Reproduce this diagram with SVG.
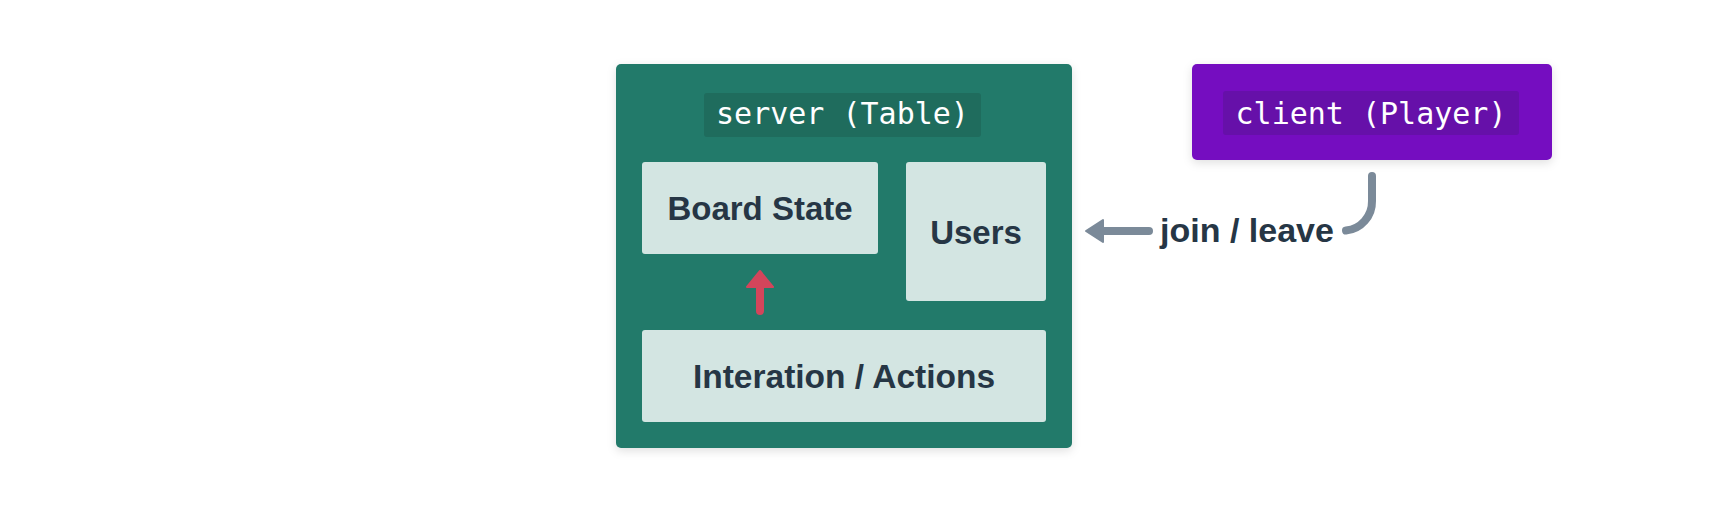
<svg xmlns="http://www.w3.org/2000/svg" width="1712" height="512" viewBox="0 0 1712 512">
<defs>
<filter id="sh" x="-10%" y="-10%" width="120%" height="130%">
<feDropShadow dx="0" dy="3" stdDeviation="5" flood-color="#000" flood-opacity="0.12"/>
</filter>
</defs>
<style>
.mono{font-family:"DejaVu Sans Mono","Liberation Mono",monospace;font-size:30px;fill:#ffffff}
.lbl{font-family:"Liberation Sans",Arial,sans-serif;font-weight:bold;font-size:33px;fill:#263645}
.inner{fill:#d3e5e2}
.gray{stroke:#7b8a99;stroke-width:8;fill:none;stroke-linecap:round}
</style>
<rect width="1712" height="512" fill="#ffffff"/>
<g id="server">
<rect x="616" y="64" width="456" height="384" rx="5" fill="#227a6a" filter="url(#sh)"/>
<rect x="704" y="93" width="277" height="44" rx="3" fill="#1f6c5d"/>
<text class="mono" x="842.5" y="124" text-anchor="middle">server (Table)</text>
</g>
<g id="board-state">
<rect class="inner" x="642" y="162" width="236" height="92" rx="3"/>
<text class="lbl" x="760" y="220" text-anchor="middle">Board State</text>
</g>
<g id="users">
<rect class="inner" x="906" y="162" width="140" height="139" rx="3"/>
<text class="lbl" x="976" y="244" text-anchor="middle">Users</text>
</g>
<g id="interaction">
<rect class="inner" x="642" y="330" width="404" height="92" rx="3"/>
<text class="lbl" x="844" y="388" text-anchor="middle" style="font-size:33.5px">Interation / Actions</text>
</g>
<g id="client">
<rect x="1192" y="64" width="360" height="96" rx="5" fill="#7411c0" filter="url(#sh)"/>
<rect x="1223" y="91" width="296" height="44" rx="3" fill="#6610a9"/>
<text class="mono" x="1371" y="124" text-anchor="middle">client (Player)</text>
</g>
<g id="connectors">
<path class="gray" d="M1372 176 V201 A29 29 0 0 1 1346 230.5"/>
<text class="lbl" x="1247" y="242" text-anchor="middle" style="font-size:34px">join / leave</text>
<path class="gray" d="M1149 231 H1100"/>
<polygon points="1086,231 1103,220 1103,242" fill="#7b8a99" stroke="#7b8a99" stroke-width="2" stroke-linejoin="round"/>
<path d="M760 311 V284" stroke="#d3455b" stroke-width="8" stroke-linecap="round" fill="none"/>
<polygon points="760,271 773,287 747,287" fill="#d3455b" stroke="#d3455b" stroke-width="2" stroke-linejoin="round"/>
</g>
</svg>
